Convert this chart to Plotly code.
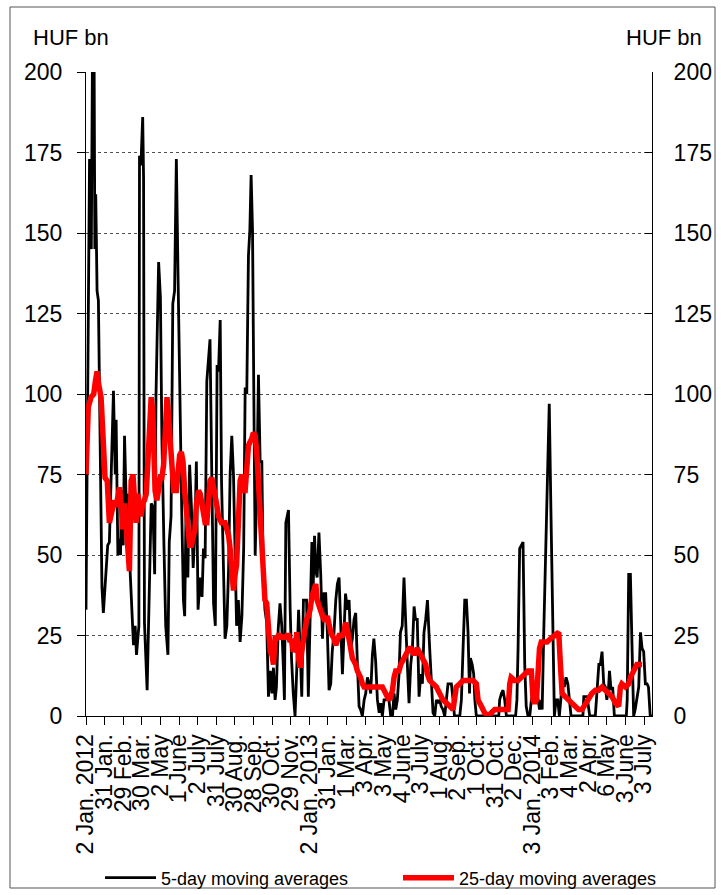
import plotly.graph_objects as go

# x positions are business-day indices from 2 Jan 2012 (ticks every 21 business days)
tick_labels = ["2 Jan. 2012", "31 Jan.", "29 Feb.", "30 Mar.", "2 May", "1 June", "2 July",
               "31 July", "30 Aug.", "28 Sep.", "30 Oct.", "29 Nov.", "2 Jan. 2013", "31 Jan.",
               "1 Mar.", "3 Apr.", "3 May", "4 June", "3 July", "1 Aug.", "2 Sep.", "1 Oct.",
               "31 Oct.", "2 Dec.", "3 Jan. 2014", "3 Feb.", "4 Mar.", "2 Apr.", "6 May",
               "3 June", "3 July"]
tick_positions = [21 * i for i in range(len(tick_labels))]

ma5_x = [0, 4, 6, 7.5, 9, 10, 11, 12.5, 14, 16, 18, 19.6, 22.7, 24.5, 26.4, 28, 31, 33, 34, 36,
         37, 39, 40, 42, 43.5, 46, 47, 49, 51, 53.6, 55.5, 57, 59.7, 60.4, 62, 64, 65, 66, 69, 72,
         73.6, 75.5, 77.5, 79, 82, 84, 85.7, 88, 90, 92.5, 94, 96, 98, 100, 102, 104, 106, 108,
         110, 111.4, 113, 115, 117, 119, 121, 123, 124.6, 126.5, 129, 131, 132.6, 134.5, 136.4,
         138, 140, 142, 144, 146, 148, 149.6, 151.5, 153, 155, 157, 159, 161, 162.7, 164.6,
         166.5, 168, 170, 172, 174, 176, 178, 179.7, 181.5, 183.4, 185, 186.4, 188, 189.5, 191,
         193, 194.7, 196.6, 198.5, 200, 202, 204, 206, 208, 210, 211.6, 213.5, 215, 217, 219,
         221, 223, 224, 225.6, 227.5, 228.6, 230.5, 232, 234, 236, 238, 240, 242, 243.6, 245.5,
         247.4, 249, 251, 253, 255, 256.5, 258, 259.5, 261, 263, 265, 267, 268.8, 270.6, 272.5,
         274.4, 276.3, 278, 280, 282, 283.8, 285.7, 287.6, 289.5, 291.3, 293, 295, 297, 299,
         300.7, 302.6, 304.5, 306.4, 308.3, 310, 312, 314, 315.8, 317.7, 319.6, 321.4, 323.3,
         325, 327, 329, 331, 332.7, 334.6, 336.5, 338.4, 340, 342, 344, 346, 347.8, 349.7, 351.5,
         353.4, 355, 357, 359, 361, 362.8, 364.7, 366.6, 368.5, 370.4, 372, 374, 376, 378, 379.8,
         381.6, 383.5, 385.5, 388, 390, 391.8, 393.7, 395.6, 397.5, 399.3, 401, 403, 405, 407,
         408.7, 410.6, 412.5, 414.4, 416, 422, 423.8, 425.7, 427.6, 429.5, 431.3, 433, 434, 436,
         437.7, 439, 440.7, 466, 467, 469, 470.8, 472.7, 474.6, 485, 486.5, 487.8, 489.6, 491.5,
         493.4, 495.3, 497, 499, 501, 502.8, 504.7, 506.6, 508.5, 510.5, 512, 514, 515, 516.8,
         518.6, 520.5, 523, 525, 527, 528.8, 530.7, 532.6, 534.4, 536.3, 538, 540, 542, 544,
         545.7, 547.6, 561, 562, 565.7, 568.7, 575, 576, 577.7, 579, 580.7, 582.6, 584.5, 586.4,
         588, 590, 591, 592.8, 594.6, 596.5, 610, 611, 612.7, 614.6, 616.5, 618.3, 620, 622, 624,
         626, 627.8, 629.6, 631.5, 633.4, 635, 637, 639]
ma5_y = [33, 173, 145, 215, 215, 145, 162, 132, 129, 86, 40, 32, 46, 53, 54, 73, 101, 75, 92, 50,
         55, 50, 70, 53, 87, 60, 69, 50, 38, 22, 28, 19, 28, 174, 171, 186, 167, 29, 8, 44,
         66, 65, 44, 99, 141, 130, 86, 53, 28, 19, 54, 62, 128, 132, 173, 135, 94, 65,
         36, 31, 65, 43, 78, 65, 46, 58, 79, 33, 43, 37, 52, 49, 104,
         109, 117, 75, 35, 28, 109, 107, 123, 73, 46, 24, 28, 46, 75, 87,
         75, 57, 28, 36, 23, 31, 52, 102, 100, 143, 151, 168, 151, 99, 50,
         73, 106, 79, 79, 46, 33, 29, 6, 14, 7, 15, 5, 9, 27, 35,
         28, 14, 5, 60, 62, 64, 33, 18, 7, 0, 15, 33, 19, 6, 36,
         36, 36, 6, 31, 54, 40, 56, 45, 43, 57, 44, 24, 38, 38, 26,
         8, 10, 20, 26, 36, 41, 43, 26, 13, 26, 38, 33, 36, 21,
         24, 30, 32, 16, 3, 2, 0, 5, 7, 12, 10, 7, 19,
         24, 17, 5, 1, 4, 0, 5, 5, 6, 5, 0, 0, 7, 2, 5,
         13, 26, 28, 43, 26, 16, 4, 16, 21, 34, 30, 30, 6, 13, 10,
         26, 30, 36, 21, 8, 1, 0, 5, 4, 5, 3, 2, 0, 5,
         10, 10, 10, 5, 0, 0, 5, 21, 36, 36, 26, 7, 18, 16,
         13, 5, 0, 0, 5, 7, 8, 5, 0, 0, 5, 21, 52, 53,
         54, 16, 3, 0, 0, 5, 7, 5, 8, 5, 2, 5, 2, 26,
         49, 72, 97, 62, 26, 0, 5, 5, 0, 5, 11, 9, 12, 10,
         5, 0, 0, 6, 6, 0, 0, 5, 10, 16, 16, 20, 10, 9,
         5, 9, 14, 8, 9, 0, 0, 5, 44, 44, 21, 0, 2, 5, 9,
         26, 21, 20, 10, 10, 9, 0, 0]

ma25_x = [0, 2.6, 5.7, 8.7, 10.6, 12.5, 14.3, 17, 19, 21.5, 24, 26.4, 28, 30, 32, 34, 36, 37.8,
          39.7, 41.5, 43.4, 45, 47, 49, 51, 53, 54.8, 56.6, 58.5, 60.4, 62, 64, 66, 68, 70,
          71.8, 73.6, 75.5, 76.7, 78, 80, 82, 84, 85.7, 87.6, 89.5, 91.4, 93, 95, 97, 99, 102,
          104, 105.7, 107.6, 109.5, 111.4, 113, 115, 117, 119, 121, 123, 124.7, 127, 129, 131,
          132.6, 134.5, 136.4, 138, 140, 142, 144, 146, 148, 149.6, 151.5, 153, 155, 157, 159,
          161, 162.7, 164.6, 166.5, 168.4, 170, 172, 174, 176, 178, 179.7, 181.5, 183.4, 185,
          187, 189, 191, 193, 194.7, 196.6, 198.5, 200, 202, 204, 206, 208, 210, 211.6, 213.5,
          215, 217, 219, 221, 223, 225, 226.7, 228.6, 230.5, 232, 234, 236, 238, 240, 241.7,
          243.6, 245.5, 247.4, 249, 251, 253, 255, 257.5, 259.4, 261, 263, 265, 267, 268.8,
          270.6, 272.5, 274.4, 276.3, 278, 280, 282, 283.8, 285.7, 287.6, 289.5, 291.3, 293,
          295, 297, 299, 300.7, 302.6, 304.5, 306.4, 308.3, 310, 312, 314, 316, 320, 324, 328,
          331, 334.6, 336.5, 338.4, 340, 342, 344, 346, 347.8, 349.7, 351.5, 353.4, 355.3, 357,
          359, 361, 362.8, 364.7, 366.6, 368.5, 370.4, 372, 374, 376, 378, 379.8, 381.6, 383.5,
          385.4, 388, 391.8, 395.6, 399.3, 403, 407, 410.6, 414.4, 416, 418, 422, 425.7, 429.5,
          433, 437, 440.7, 442.6, 446.4, 450, 454, 457.7, 461.4, 465, 469, 472.7, 476.5, 478.4,
          480, 484, 487.8, 491.5, 495.3, 499, 502.8, 504.7, 506.6, 508.5, 512, 514, 516.8, 520.5,
          524.3, 528, 532, 533.7, 535.6, 537.5, 541, 545, 548.7, 552.5, 556, 560, 563.8, 567.5,
          571, 575, 578.8, 582.6, 586.4, 590, 594, 597.6, 601.4, 603.3, 605, 609, 612.7, 614.6,
          618.3, 622, 626, 627.8]
ma25_y = [75, 96, 99, 100, 104, 107, 103, 99, 88, 74, 73, 60, 62, 64, 67, 65, 69, 71,
          66, 58, 66, 56, 53, 45, 73, 75, 66, 60, 69, 65, 62, 66, 67, 69, 78,
          90, 99, 94, 73, 70, 67, 70, 74, 74, 78, 88, 99, 94, 84, 78, 70, 70,
          77, 81, 82, 79, 70, 66, 58, 53, 53, 56, 58, 66, 70, 69, 66,
          64, 60, 60, 66, 73, 74, 70, 67, 65, 62, 61, 60, 60, 60, 58,
          56, 52, 41, 39, 44, 47, 60, 73, 75, 70, 70, 78, 84, 85,
          86, 88, 87, 81, 73, 66, 53, 47, 36, 35, 29, 20, 19, 16, 24,
          24, 25, 25, 24, 25, 24, 25, 25, 23, 24, 20, 21, 26, 18, 15,
          20, 24, 29, 30, 31, 33, 37, 40, 41, 36, 34, 33, 31, 30,
          30, 31, 28, 26, 25, 24, 22, 23, 25, 25, 25, 26, 29,
          27, 23, 20, 18, 17, 16, 14, 13, 12, 10, 9, 9, 9, 9, 9,
          9, 9, 8, 7, 6, 5, 6, 8, 12, 14, 14, 14, 16, 17,
          18, 19, 20, 21, 21, 20, 19, 20, 21, 20, 19, 18, 17, 16,
          13, 11, 10, 9, 7, 5, 4, 3, 2, 5, 9, 10, 11, 11,
          11, 11, 10, 5, 3, 1, 0, 1, 2, 2, 2, 2, 2, 10,
          12, 11, 11, 12, 13, 14, 14, 5, 4, 5, 21, 23, 23, 23,
          24, 25, 26, 26, 16, 7, 6, 5, 4, 3, 2, 2, 4, 6,
          7, 8, 8, 9, 8, 7, 6, 4, 3, 9, 10, 9, 10, 12,
          14, 16, 16, 16]

y_ticks = [0, 25, 50, 75, 100, 125, 150, 175, 200]

FONT = "Liberation Sans, Arial, sans-serif"

L, R, T, B = 86, 69, 72, 179
W, H = 721, 895
pw, ph = W - L - R, H - T - B

fig = go.Figure()
fig.add_trace(go.Scatter(x=ma5_x, y=ma5_y, mode="lines", name="5-day moving averages",
                         line=dict(color="black", width=2.8), legend="legend"))
fig.add_trace(go.Scatter(x=ma25_x, y=ma25_y, mode="lines", name="25-day moving averages",
                         line=dict(color="#ff0000", width=5.5), legend="legend2"))
fig.add_trace(go.Scatter(x=[0], y=[0], yaxis="y2", mode="markers", showlegend=False,
                         hoverinfo="skip", marker=dict(opacity=0)))

legend_common = dict(orientation="h", xanchor="left", y=(716 - 878) / ph, yanchor="middle",
                     font=dict(size=18), itemwidth=51, bgcolor="rgba(0,0,0,0)")

fig.update_layout(
    width=W, height=H,
    margin=dict(l=L, r=R, t=T, b=B, autoexpand=False),
    paper_bgcolor="white", plot_bgcolor="white",
    font=dict(family=FONT, color="black", size=22),
    xaxis=dict(range=[0, 639], tickmode="array", tickvals=tick_positions, ticktext=tick_labels,
               tickangle=-90, ticks="outside", ticklen=8, tickcolor="black", showgrid=False,
               showline=True, linecolor="black", linewidth=1, zeroline=False,
               tickfont=dict(size=23), automargin=False),
    yaxis=dict(range=[0, 200], tickvals=y_ticks, ticks="outside", ticklen=8, tickcolor="black",
               showline=True, linecolor="black", linewidth=1, showgrid=True,
               gridcolor="#505050", griddash="dot", gridwidth=1, zeroline=False,
               tickfont=dict(size=23), ticklabelstandoff=10, automargin=False),
    yaxis2=dict(range=[0, 200], tickvals=y_ticks, overlaying="y", side="right", ticks="inside",
                ticklen=7, tickcolor="black", showline=True, linecolor="black", linewidth=1,
                showgrid=False, zeroline=False, tickfont=dict(size=23), ticklabelstandoff=16,
                automargin=False),
    showlegend=True,
    legend=dict(x=(100 - L) / pw, **legend_common),
    legend2=dict(x=(398 - L) / pw, **legend_common),
    annotations=[
        dict(text="HUF bn", xref="paper", yref="paper", x=(31 - L) / pw, y=(716 - 38) / ph,
             xanchor="left", yanchor="middle", showarrow=False, font=dict(size=22)),
        dict(text="HUF bn", xref="paper", yref="paper", x=(704 - L) / pw, y=(716 - 38) / ph,
             xanchor="right", yanchor="middle", showarrow=False, font=dict(size=22)),
    ],
    shapes=[
        dict(type="rect", xref="paper", yref="paper", x0=(10 - L) / pw, x1=(715 - L) / pw,
             y0=(716 - 888) / ph, y1=(716 - 7) / ph, line=dict(color="#555555", width=1),
             layer="below"),
    ],
)

fig.write_html("out.html", config={"displayModeBar": False},
               post_script="document.body.style.margin='0';document.body.style.overflow='hidden';")
